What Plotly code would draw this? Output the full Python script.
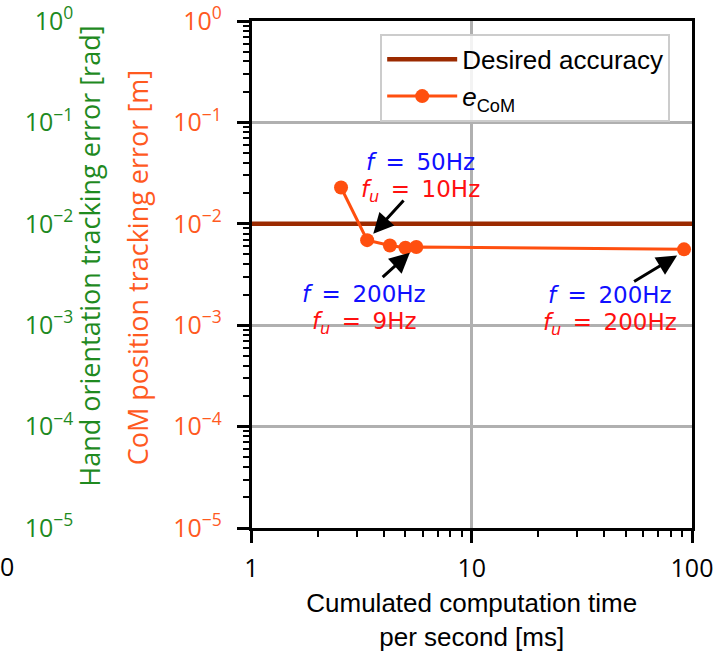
import plotly.graph_objects as go

# Data
comp_time_ms = [2.55, 3.35, 4.25, 5.0, 5.6, 92.0]
com_error_m = [0.0228, 0.0069, 0.0061, 0.0058, 0.0059, 0.0056]
desired_accuracy = 0.01
x_range_vals = [1, 100]
y_tick_vals = [1e0, 1e-1, 1e-2, 1e-3, 1e-4, 1e-5]
y_tick_text = ["10<sup>0</sup>", "10<sup>−1</sup>", "10<sup>−2</sup>", "10<sup>−3</sup>",
               "10<sup>−4</sup>", "10<sup>−5</sup>"]
x_tick_vals = [1, 10, 100]
x_tick_text = ["1", "10", "100"]

ORANGE = "#ff4f0f"
ORANGE_TXT = "#ff5a1f"
GREEN = "#1f8a1f"
BROWN = "#9b2a00"

fig = go.Figure()
fig.add_trace(go.Scatter(x=x_range_vals, y=[desired_accuracy] * 2, mode="lines",
                         line=dict(color=BROWN, width=4.5), name="Desired accuracy"))
fig.add_trace(go.Scatter(x=comp_time_ms, y=com_error_m, mode="lines+markers",
                         line=dict(color=ORANGE, width=3),
                         marker=dict(color=ORANGE, size=14),
                         name="<i>e</i><sub>CoM</sub>"))
fig.add_trace(go.Scatter(x=[], y=[], yaxis="y3", showlegend=False, hoverinfo="skip"))

W, H = 718, 654
ml, mr, mt, mb = 0, 26, 18, 126
pw = W - ml - mr
ph = H - mt - mb
x0 = 247

TICKFAM = "Open Sans, Noto Sans, sans-serif"
tickfont = dict(family=TICKFAM, size=25, color="black")

fig.update_layout(
    width=W, height=H,
    margin=dict(l=ml, r=mr, t=mt, b=mb),
    paper_bgcolor="white", plot_bgcolor="white",
    font=dict(family="Liberation Sans, Arial, sans-serif", size=26, color="black"),
    showlegend=True,
    legend=dict(x=377 / pw, y=1 - (31 - mt) / ph, xanchor="left", yanchor="top",
                bgcolor="rgba(255,255,255,0.85)", bordercolor="#cccccc", borderwidth=2,
                font=dict(size=26), itemwidth=70, tracegroupgap=4),
    xaxis=dict(type="log", range=[0, 2], domain=[x0 / pw, 1],
               tickvals=x_tick_vals, ticktext=x_tick_text,
               tickfont=tickfont, ticks="outside", ticklen=12, tickwidth=2.5,
               tickcolor="black", ticklabelstandoff=4, ticklabeloverflow="allow",
               minor=dict(ticks="outside", ticklen=6, tickwidth=2, tickcolor="black",
                          showgrid=False, dtick="D1"),
               showline=True, linecolor="black", linewidth=2.5, mirror=True,
               showgrid=True, gridcolor="#b0b0b0", gridwidth=2.5,
               title=dict(text="Cumulated computation time<br>per second [ms]",
                          font=dict(size=26), standoff=12),
               zeroline=False),
    yaxis=dict(type="log", range=[-5, 0],
               tickvals=y_tick_vals, ticktext=y_tick_text,
               tickfont=dict(family=TICKFAM, size=25, color=ORANGE_TXT),
               ticks="outside", ticklen=12, tickwidth=2.5, tickcolor="black",
               ticklabelstandoff=10, ticklabeloverflow="allow",
               minor=dict(ticks="outside", ticklen=6, tickwidth=2, tickcolor="black",
                          showgrid=False, dtick="D1"),
               showline=True, linecolor="black", linewidth=2.5, mirror=True,
               showgrid=True, gridcolor="#b0b0b0", gridwidth=2.5,
               zeroline=False),
    yaxis3=dict(type="log", range=[-5, 0], overlaying="y", anchor="free",
                position=67 / pw, side="left",
                tickvals=y_tick_vals, ticktext=y_tick_text,
                tickfont=dict(family=TICKFAM, size=25, color=GREEN),
                ticklabeloverflow="allow",
                ticks="", showline=False, showgrid=False, zeroline=False),
)

def lx(px):
    return (px - x0) / (pw - x0) * 2

def ly(py):
    return -(py - mt) / ph * 5

ann = []
# y-axis titles
ann.append(dict(x=132 / pw, y=0.5 + 7 / ph, xref="paper", yref="paper", textangle=-90,
                text="CoM position tracking error [m]", showarrow=False,
                xanchor="center", yanchor="middle",
                font=dict(family=TICKFAM, size=27, color=ORANGE_TXT)))
ann.append(dict(x=83 / pw, y=0.5 + 18 / ph, xref="paper", yref="paper", textangle=-90,
                text="Hand orientation tracking error [rad]", showarrow=False,
                xanchor="center", yanchor="middle",
                font=dict(family=TICKFAM, size=27, color=GREEN)))

# arrows (head, tail) in pixel positions converted to log data units
arrows = [((370, 232), (402, 197)), ((407, 251), (378, 277)), ((677, 254), (632, 281))]
for (hx, hy), (tx, ty) in arrows:
    ann.append(dict(x=lx(hx), y=ly(hy), ax=lx(tx), ay=ly(ty), xref="x", yref="y",
                    axref="x", ayref="y", showarrow=True, arrowhead=2, arrowsize=1.35,
                    arrowwidth=3, arrowcolor="black", text=""))

SP = "\u2002"
labels = [
    (418, 160, f"<i>f</i>{SP}={SP}50Hz", "#1010ff"),
    (418, 189, f"<i>f<sub>u</sub></i>{SP}={SP}10Hz", "#ff1010"),
    (361, 293, f"<i>f</i>{SP}={SP}200Hz", "#1010ff"),
    (361, 322, f"<i>f<sub>u</sub></i>{SP}={SP}9Hz", "#ff1010"),
    (609, 294, f"<i>f</i>{SP}={SP}200Hz", "#1010ff"),
    (609, 323, f"<i>f<sub>u</sub></i>{SP}={SP}200Hz", "#ff1010"),
]
for px, py, t, c in labels:
    ann.append(dict(x=lx(px), y=ly(py), xref="x", yref="y", text=t, showarrow=False,
                    font=dict(family="DejaVu Sans, sans-serif", size=23, color=c),
                    xanchor="center", yanchor="middle"))

# remnant of the hidden twin axis tick label at the far left edge
ann.append(dict(x=9.5 / pw, y=-(566 - mt - ph) / ph, xref="paper", yref="paper",
                text="0", showarrow=False, xanchor="right", yanchor="middle",
                font=dict(family=TICKFAM, size=25, color="black")))

fig.update_layout(annotations=ann)
fig.write_html("out.html")
